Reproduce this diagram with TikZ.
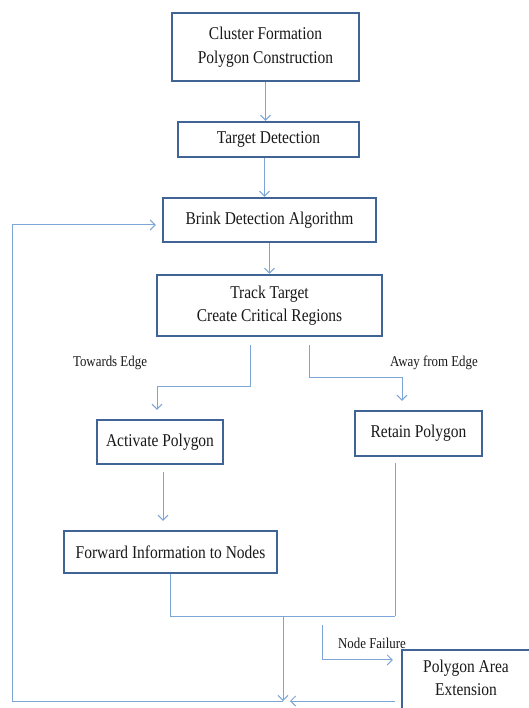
\documentclass[tikz,border=0pt]{standalone}
\usepackage{fontspec}
\setmainfont{Liberation Serif}[FakeStretch=0.86]
\usetikzlibrary{arrows.meta,calc}
\definecolor{boxc}{RGB}{65,100,150}
\definecolor{arrc}{RGB}{125,165,215}
\definecolor{txtc}{RGB}{25,25,25}
\begin{document}
\begin{tikzpicture}[x=1pt,y=-1pt,
 box/.style={draw=boxc,line width=2.2pt,fill=white,align=center,inner sep=0pt,text=txtc,font=\fontsize{18}{24}\selectfont},
 arr/.style={draw=arrc,line width=1pt,-{Straight Barb[length=5pt,width=10pt]}},
 ln/.style={draw=arrc,line width=1pt},
 lab/.style={text=txtc,inner sep=0pt,font=\fontsize{15}{17}\selectfont},
 txt/.style={text=txtc,align=center,inner sep=0pt,font=\fontsize{18}{23}\selectfont}]
\useasboundingbox (0,0) rectangle (528,708);
\fill[white] (0,0) rectangle (528,708);
% boxes
\node[box,minimum width=187pt,minimum height=68pt] (cf) at (265.5,47) {Cluster Formation\\Polygon Construction};
\node[box,minimum width=181pt,minimum height=35pt] (td) at (268.5,139.5) {Target Detection};
\node[box,minimum width=213pt,minimum height=44pt] (bd) at (269.5,220) {Brink Detection Algorithm};
\node[box,minimum width=225pt,minimum height=61pt,font=\fontsize{18}{23}\selectfont] (tt) at (269.5,305.5) {Track Target\\Create Critical Regions};
\node[box,minimum width=126pt,minimum height=44pt] (ap) at (160,442) {Activate Polygon};
\node[box,minimum width=127pt,minimum height=45pt] (rp) at (418.5,433.5) {Retain Polygon};
\node[box,minimum width=213pt,minimum height=42pt] (fi) at (170.5,552) {Forward Information to Nodes};
% labels
\node[lab] (lt) at (110,363) {Towards Edge};
\node[lab] (la) at (434,363) {Away from Edge};
\node[lab] (lnf) at (372,643) {Node Failure};
\node[box,minimum width=138pt,minimum height=80pt] (pae) at (471,690) {};
\node[txt] (paet) at (466,678) {Polygon Area\\Extension};
% coordinates
\coordinate (tl) at (250,345);
\coordinate (tr) at (309,345);
\coordinate (as) at (163,472);
\coordinate (rs) at (395,463);
\coordinate (jr) at (395,616);
\coordinate (jm) at (283,616);
\coordinate (m) at (283,701);
\coordinate (lb) at (12,701);
\coordinate (nf) at (322,625);
\coordinate (pb) at (395,701);
% connectors
\draw[arr] (cf.south) -- (cf.south |- td.north);
\draw[arr] ([xshift=-4pt]td.south) -- ([xshift=-4pt]td.south |- bd.north);
\draw[arr] (bd.south) -- (bd.south |- tt.north);
\draw[arr,shorten >=9pt] (tl) -- ++(0,41) -| ([xshift=-3pt]ap.north);
\draw[arr,shorten >=9pt] (tr) -- ++(0,32) -| ([xshift=-16.5pt]rp.north);
\draw[arr,shorten >=9pt] (as) -- (as |- fi.north);
\draw[ln] (rs) -- (jr);
\draw[ln] (fi.south) |- (jr);
\draw[arr] (jm) -- (m);
\draw[arr] (m) -- (lb) |- ([xshift=-6pt,yshift=-5pt]bd.west);
\draw[arr,shorten >=8pt] (nf) |- (pae.west |- paet.north);
\draw[arr,shorten >=7pt] (pb) -- (m);
\end{tikzpicture}
\end{document}
